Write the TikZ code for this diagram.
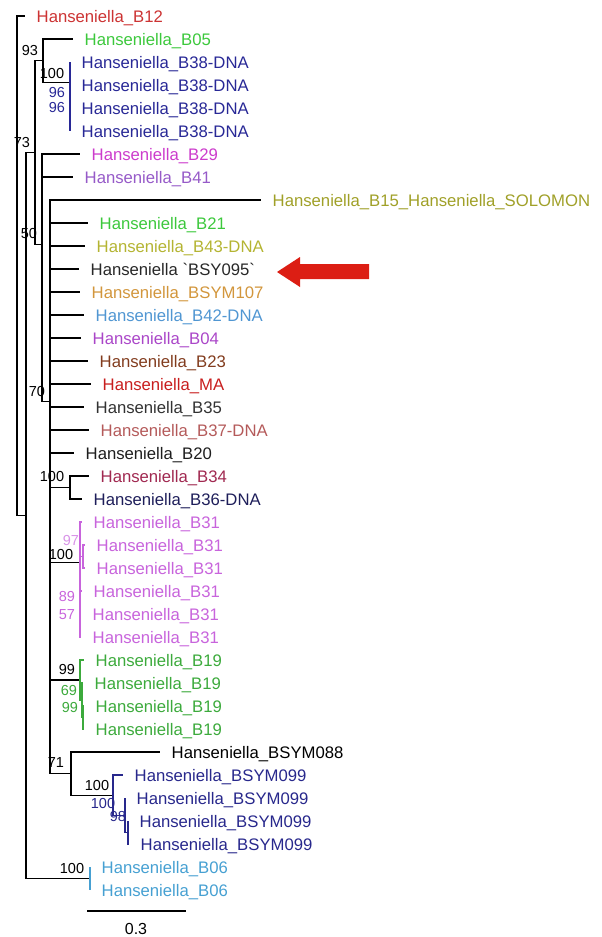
\documentclass[tikz,border=0pt]{standalone}
\usepackage{fontspec}
\newfontfamily\leaffont{Liberation Sans}[Ligatures=TeXOff]
\definecolor{cB12}{RGB}{204,51,51}
\definecolor{cB05}{RGB}{60,200,60}
\definecolor{cB38}{RGB}{40,40,150}
\definecolor{cB29}{RGB}{204,60,204}
\definecolor{cB41}{RGB}{150,90,200}
\definecolor{cB15}{RGB}{160,160,40}
\definecolor{cB21}{RGB}{60,200,60}
\definecolor{cB43}{RGB}{180,180,50}
\definecolor{cBSY}{RGB}{40,40,40}
\definecolor{cB107}{RGB}{210,150,60}
\definecolor{cB42}{RGB}{80,150,210}
\definecolor{cB04}{RGB}{170,70,200}
\definecolor{cB23}{RGB}{130,60,30}
\definecolor{cMA}{RGB}{200,30,30}
\definecolor{cB35}{RGB}{50,50,50}
\definecolor{cB37}{RGB}{180,90,90}
\definecolor{cB20}{RGB}{30,30,30}
\definecolor{cB34}{RGB}{160,40,80}
\definecolor{cB36}{RGB}{30,30,90}
\definecolor{cB31}{RGB}{200,100,220}
\definecolor{cB19}{RGB}{60,170,60}
\definecolor{cB099}{RGB}{40,40,140}
\definecolor{cB06}{RGB}{70,160,210}
\definecolor{arrowred}{RGB}{220,30,20}

\begin{document}
\begin{tikzpicture}[x=1pt,y=-1pt,
  leaf/.style={anchor=west,inner xsep=11.5pt,inner ysep=0pt,text height=12pt,text depth=0pt,
    font=\leaffont\fontsize{16.7}{20}\selectfont},
  boot/.style={inner sep=0pt,font=\leaffont\fontsize{14.5}{17}\selectfont},
  br/.style={line width=1.1pt}]
\useasboundingbox (0,0) rectangle (602,937);

% inner nodes of the tree
\coordinate (root) at (17,265.7);
\coordinate (n73) at (26,515.4);
\coordinate (nA) at (35,152.4);
\coordinate (n93) at (43,60.6);
\coordinate (n100a) at (70,82.1);
\coordinate (n96a) at (70,102.3);
\coordinate (n96b) at (70,119.5);
\coordinate (n50) at (42,244.1);
\coordinate (n70) at (50,401.3);
\coordinate (n100b) at (70,487.5);
\coordinate (n100c) at (80,562.3);
\coordinate (n97) at (83,556.5);
\coordinate (n89) at (80,608.3);
\coordinate (n57) at (80,625.5);
\coordinate (n99a) at (80,680);
\coordinate (n69) at (82,700.3);
\coordinate (n99b) at (83,717.5);
\coordinate (n71) at (71,773.6);
\coordinate (n100d) at (113,795.1);
\coordinate (n100e) at (125,815.3);
\coordinate (n98) at (128,832.5);
\coordinate (n100f) at (90,878.5);

% leaves
\node[leaf,text=cB12] (b12) at (25,16) {Hanseniella\_B12};
\node[leaf,text=cB05] (b05) at (73,39) {Hanseniella\_B05};
\node[leaf,text=cB38] (b38a) at (70,62) {Hanseniella\_B38-DNA};
\node[leaf,text=cB38] (b38b) at (70,85) {Hanseniella\_B38-DNA};
\node[leaf,text=cB38] (b38c) at (70,108) {Hanseniella\_B38-DNA};
\node[leaf,text=cB38] (b38d) at (70,131) {Hanseniella\_B38-DNA};
\node[leaf,text=cB29] (b29) at (80,154) {Hanseniella\_B29};
\node[leaf,text=cB41] (b41) at (73,177) {Hanseniella\_B41};
\node[leaf,text=cB15] (b15) at (261,200) {Hanseniella\_B15\_Hanseniella\_SOLOMON};
\node[leaf,text=cB21] (b21) at (88,223) {Hanseniella\_B21};
\node[leaf,text=cB43] (b43) at (85,246) {Hanseniella\_B43-DNA};
\node[leaf,text=cBSY] (bsy095) at (79,269) {Hanseniella `BSY095`};
\node[leaf,text=cB107] (bsym107) at (80,292) {Hanseniella\_BSYM107};
\node[leaf,text=cB42] (b42) at (84,315) {Hanseniella\_B42-DNA};
\node[leaf,text=cB04] (b04) at (81,338) {Hanseniella\_B04};
\node[leaf,text=cB23] (b23) at (88,361) {Hanseniella\_B23};
\node[leaf,text=cMA] (ma) at (91,384) {Hanseniella\_MA};
\node[leaf,text=cB35] (b35) at (84,407) {Hanseniella\_B35};
\node[leaf,text=cB37] (b37) at (89,430) {Hanseniella\_B37-DNA};
\node[leaf,text=cB20] (b20) at (74,453) {Hanseniella\_B20};
\node[leaf,text=cB34] (b34) at (89,476) {Hanseniella\_B34};
\node[leaf,text=cB36] (b36) at (82,499) {Hanseniella\_B36-DNA};
\node[leaf,text=cB31] (b31a) at (82,522) {Hanseniella\_B31};
\node[leaf,text=cB31] (b31b) at (85,545) {Hanseniella\_B31};
\node[leaf,text=cB31] (b31c) at (85,568) {Hanseniella\_B31};
\node[leaf,text=cB31] (b31d) at (82,591) {Hanseniella\_B31};
\node[leaf,text=cB31] (b31e) at (81,614) {Hanseniella\_B31};
\node[leaf,text=cB31] (b31f) at (81,637) {Hanseniella\_B31};
\node[leaf,text=cB19] (b19a) at (84,660) {Hanseniella\_B19};
\node[leaf,text=cB19] (b19b) at (83,683) {Hanseniella\_B19};
\node[leaf,text=cB19] (b19c) at (84,706) {Hanseniella\_B19};
\node[leaf,text=cB19] (b19d) at (84,729) {Hanseniella\_B19};
\node[leaf,text=black] (bsym088) at (160,752) {Hanseniella\_BSYM088};
\node[leaf,text=cB099] (b099a) at (123,775) {Hanseniella\_BSYM099};
\node[leaf,text=cB099] (b099b) at (125,798) {Hanseniella\_BSYM099};
\node[leaf,text=cB099] (b099c) at (128,821) {Hanseniella\_BSYM099};
\node[leaf,text=cB099] (b099d) at (129,844) {Hanseniella\_BSYM099};
\node[leaf,text=cB06] (b06a) at (90,867) {Hanseniella\_B06};
\node[leaf,text=cB06] (b06b) at (90,890) {Hanseniella\_B06};

% branches
\draw[br] (root) |- (b12.west);
\draw[br] (root) |- (n73);
\draw[br] (n73) |- (nA);
\draw[br] (n73) |- (n100f);
\draw[br] (nA) |- (n93);
\draw[br] (nA) |- (n50);
\draw[br] (n93) |- (b05.west);
\draw[br] (n93) |- (n100a);
\draw[br,cB38] (n100a) |- (b38a.west);
\draw[br,cB38] (n100a) |- (n96a);
\draw[br,cB38] (n96a) |- (b38b.west);
\draw[br,cB38] (n96a) |- (n96b);
\draw[br,cB38] (n96b) |- (b38c.west);
\draw[br,cB38] (n96b) |- (b38d.west);
\draw[cB38,line width=2.4pt] (n100a) -- (n96a);
\draw[br] (n50) |- (b29.west);
\draw[br] (n50) |- (b41.west);
\draw[br] (n50) |- (n70);
\foreach \lf in {b15,b21,b43,bsy095,bsym107,b42,b04,b23,ma,b35,b37,b20}
  {\draw[br] (n70) |- (\lf.west);}
\foreach \nd in {n100b,n100c,n99a,n71}
  {\draw[br] (n70) |- (\nd);}
\draw[br] (n100b) |- (b34.west);
\draw[br] (n100b) |- (b36.west);
\draw[br,cB31] (n100c) |- (b31a.west);
\draw[br,cB31] (n100c) |- (n97);
\draw[br,cB31] (n100c) |- (n89);
\draw[br,cB31] (n97) |- (b31b.west);
\draw[br,cB31] (n97) |- (b31c.west);
\draw[br,cB31] (n89) |- (b31d.west);
\draw[br,cB31] (n89) |- (n57);
\draw[br,cB31] (n57) |- (b31e.west);
\draw[br,cB31] (n57) |- (b31f.west);
\draw[cB31,line width=2.4pt] (n89) -- (n89 |- b31d.west);
\draw[br,cB19] (n99a) |- (b19a.west);
\draw[br,cB19] (n99a) |- (n69);
\draw[br,cB19] (n69) |- (b19b.west);
\draw[br,cB19] (n69) |- (n99b);
\draw[br,cB19] (n99b) |- (b19c.west);
\draw[br,cB19] (n99b) |- (b19d.west);
\draw[br] (n71) |- (bsym088.west);
\draw[br] (n71) |- (n100d);
\draw[br,cB099] (n100d) |- (b099a.west);
\draw[br,cB099] (n100d) |- (n100e);
\draw[br,cB099] (n100e) |- (b099b.west);
\draw[br,cB099] (n100e) |- (n98);
\draw[br,cB099] (n98) |- (b099c.west);
\draw[br,cB099] (n98) |- (b099d.west);
\draw[br,cB06] (n100f) |- (b06a.west);
\draw[br,cB06] (n100f) |- (b06b.west);

% bootstrap values
\node[boot] (s93) at (30,51) {93};
\node[boot] (s100a) at (52,74) {100};
\node[boot,text=cB38] (s96a) at (57,93) {96};
\node[boot,text=cB38] (s96b) at (57,108) {96};
\node[boot] (s73) at (22,143) {73};
\node[boot] (s50) at (29,234) {50};
\node[boot] (s70) at (37,392) {70};
\node[boot] (s100b) at (52,477) {100};
\node[boot,text=cB31!70] (s97) at (71,541) {97};
\node[boot] (s100c) at (61,555) {100};
\node[boot,text=cB31] (s89) at (67,597) {89};
\node[boot,text=cB31] (s57) at (67,615) {57};
\node[boot] (s99a) at (67,669) {99};
\node[boot,text=cB19] (s69) at (69,690) {69};
\node[boot,text=cB19] (s99b) at (70,707) {99};
\node[boot] (s71) at (56,763) {71};
\node[boot] (s100d) at (97,785) {100};
\node[boot,text=cB099] (s100e) at (103,803) {100};
\node[boot,text=cB099] (s98) at (118,816) {98};
\node[boot] (s100f) at (72,868) {100};

% pointer to BSY095
\fill[arrowred] (277,272) -- (300,257) -- (300,264) -- (369,264) -- (369,279)
  -- (300,279) -- (300,287) -- cycle;

% scale bar
\coordinate (sbl) at (87,911);
\coordinate (sbr) at (186,911);
\draw[br] (sbl) -- (sbr);
\node[boot,font=\leaffont\fontsize{16}{18}\selectfont] (sbval) at (136,929) {0.3};
\end{tikzpicture}
\end{document}
